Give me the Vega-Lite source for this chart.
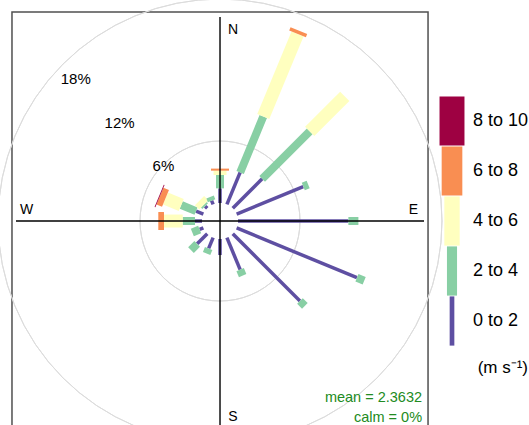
{
  "$schema": "https://vega.github.io/schema/vega-lite/v6.json",
  "width": 529,
  "height": 425,
  "padding": 0,
  "autosize": "none",
  "background": "white",
  "config": {"view": {"stroke": null}, "font": "Liberation Sans"},
  "datasets": {
    "rose": [
      {"dir": 0, "speed": "0 to 2", "freq": 1.42},
      {"dir": 0, "speed": "2 to 4", "freq": 1.29},
      {"dir": 0, "speed": "4 to 6", "freq": 0.42},
      {"dir": 0, "speed": "6 to 8", "freq": 0.2},
      {"dir": 22.5, "speed": "0 to 2", "freq": 3.35},
      {"dir": 22.5, "speed": "2 to 4", "freq": 5.85},
      {"dir": 22.5, "speed": "4 to 6", "freq": 8.66},
      {"dir": 22.5, "speed": "6 to 8", "freq": 0.34},
      {"dir": 45, "speed": "0 to 2", "freq": 4.03},
      {"dir": 45, "speed": "2 to 4", "freq": 6.5},
      {"dir": 45, "speed": "4 to 6", "freq": 4.8},
      {"dir": 67.5, "speed": "0 to 2", "freq": 6.98},
      {"dir": 67.5, "speed": "2 to 4", "freq": 0.51},
      {"dir": 90, "speed": "0 to 2", "freq": 10.68},
      {"dir": 90, "speed": "2 to 4", "freq": 0.97},
      {"dir": 112.5, "speed": "0 to 2", "freq": 12.6},
      {"dir": 112.5, "speed": "2 to 4", "freq": 0.76},
      {"dir": 135, "speed": "0 to 2", "freq": 9.2},
      {"dir": 135, "speed": "2 to 4", "freq": 0.67},
      {"dir": 157.5, "speed": "0 to 2", "freq": 3.35},
      {"dir": 157.5, "speed": "2 to 4", "freq": 0.63},
      {"dir": 180, "speed": "0 to 2", "freq": 1.55},
      {"dir": 202.5, "speed": "0 to 2", "freq": 1.13},
      {"dir": 202.5, "speed": "2 to 4", "freq": 0.52},
      {"dir": 225, "speed": "0 to 2", "freq": 1.38},
      {"dir": 225, "speed": "2 to 4", "freq": 0.85},
      {"dir": 247.5, "speed": "0 to 2", "freq": 0.39},
      {"dir": 247.5, "speed": "2 to 4", "freq": 0.77},
      {"dir": 270, "speed": "0 to 2", "freq": 0.68},
      {"dir": 270, "speed": "2 to 4", "freq": 1.19},
      {"dir": 270, "speed": "4 to 6", "freq": 1.81},
      {"dir": 270, "speed": "6 to 8", "freq": 0.55},
      {"dir": 292.5, "speed": "0 to 2", "freq": 0.77},
      {"dir": 292.5, "speed": "2 to 4", "freq": 1.55},
      {"dir": 292.5, "speed": "4 to 6", "freq": 1.65},
      {"dir": 292.5, "speed": "6 to 8", "freq": 0.58},
      {"dir": 292.5, "speed": "8 to 10", "freq": 0.08},
      {"dir": 315, "speed": "0 to 2", "freq": 0.29},
      {"dir": 315, "speed": "2 to 4", "freq": 0.19},
      {"dir": 315, "speed": "4 to 6", "freq": 0.58},
      {"dir": 337.5, "speed": "0 to 2", "freq": 0.39},
      {"dir": 337.5, "speed": "2 to 4", "freq": 0.38}
    ],
    "rings": [
      {"pct": 6, "label": "6%"},
      {"pct": 12, "label": "12%"},
      {"pct": 18, "label": "18%"}
    ],
    "compass": [
      {"label": "N", "dir": 0},
      {"label": "E", "dir": 90},
      {"label": "S", "dir": 180},
      {"label": "W", "dir": 270}
    ],
    "stats": [
      {"label": "mean = 2.3632", "line": 0},
      {"label": "calm = 0%", "line": 1}
    ]
  },
  "layer": [
    {
      "description": "panel border",
      "data": {"values": [{}]},
      "mark": {"type": "rect", "fillOpacity": 0, "stroke": "#505050", "strokeWidth": 1.5},
      "encoding": {
        "x": {"datum": -20.13, "type": "quantitative", "scale": {"domain": [-21.29, 29.9], "nice": false, "zero": false}, "axis": null},
        "x2": {"datum": 20.13},
        "y": {"datum": 20.23, "type": "quantitative", "scale": {"domain": [-19.74, 21.39], "nice": false, "zero": false}, "axis": null},
        "y2": {"datum": -23}
      }
    },
    {
      "description": "percentage rings, offset by the calm hole in the middle",
      "data": {"name": "rings"},
      "transform": [{"calculate": "datum.pct + 1.742", "as": "rr"}],
      "mark": {"type": "arc", "theta": 0, "theta2": 6.2832, "fillOpacity": 0, "stroke": "#dcdcdc", "strokeWidth": 1},
      "encoding": {
        "x": {"datum": 0, "type": "quantitative", "scale": {"domain": [-21.29, 29.9], "nice": false, "zero": false}, "axis": null},
        "y": {"datum": 0, "type": "quantitative", "scale": {"domain": [-19.74, 21.39], "nice": false, "zero": false}, "axis": null},
        "radius": {"field": "rr", "type": "quantitative", "scale": {"type": "linear", "domain": [0, 19.742], "range": [0, 204], "zero": true}}
      }
    },
    {
      "description": "paddles: one segment per direction and speed interval, wider for faster winds",
      "data": {"name": "rose"},
      "transform": [
        {"stack": "freq", "groupby": ["dir"], "sort": [{"field": "speed", "order": "ascending"}], "as": ["p0", "p1"]},
        {"calculate": "(datum.p0 + 1.742) * sin(datum.dir * PI / 180)", "as": "xa"},
        {"calculate": "(datum.p0 + 1.742) * cos(datum.dir * PI / 180)", "as": "ya"},
        {"calculate": "(datum.p1 + 1.742) * sin(datum.dir * PI / 180)", "as": "xb"},
        {"calculate": "(datum.p1 + 1.742) * cos(datum.dir * PI / 180)", "as": "yb"}
      ],
      "mark": {"type": "rule", "strokeCap": "butt"},
      "encoding": {
        "x": {"field": "xa", "type": "quantitative", "scale": {"domain": [-21.29, 29.9], "nice": false, "zero": false}, "axis": null},
        "x2": {"field": "xb"},
        "y": {"field": "ya", "type": "quantitative", "scale": {"domain": [-19.74, 21.39], "nice": false, "zero": false}, "axis": null},
        "y2": {"field": "yb"},
        "color": {
          "field": "speed",
          "type": "nominal",
          "scale": {
            "domain": ["8 to 10", "6 to 8", "4 to 6", "2 to 4", "0 to 2"],
            "range": ["#9E0142", "#F98E52", "#FFFFBF", "#88CFA4", "#5E4FA2"]
          },
          "legend": {
            "orient": "none",
            "legendX": 439,
            "legendY": 108,
            "padding": 0,
            "rowPadding": 0,
            "symbolSize": 635,
            "labelOffset": 8,
            "labelFont": "Liberation Sans",
            "labelFontSize": 18,
            "labelColor": "#000000",
            "title": "(m s⁻¹)",
            "titleOrient": "bottom",
            "titleAnchor": "end",
            "titleFont": "Liberation Sans",
            "titleFontSize": 17,
            "titleFontWeight": "normal",
            "titleColor": "#000000",
            "titlePadding": 14,
            "encode": {
              "symbols": {
                "update": {
                  "shape": {"signal": "datum.value === '8 to 10' ? 'M-0.99,-1.953H0.99V1.953H-0.99Z' : datum.value === '6 to 8' ? 'M-0.82,-1.953H0.82V1.953H-0.82Z' : datum.value === '4 to 6' ? 'M-0.61,-1.953H0.61V1.953H-0.61Z' : datum.value === '2 to 4' ? 'M-0.4,-1.953H0.4V1.953H-0.4Z' : 'M-0.186,-1.953H0.186V1.953H-0.186Z'"},
                  "fill": {"scale": "color", "field": "value"},
                  "fillOpacity": {"value": 1},
                  "opacity": {"value": 1},
                  "strokeWidth": {"value": 0}
                }
              }
            }
          }
        },
        "strokeWidth": {
          "condition": [
            {"test": "datum.speed === '0 to 2'", "value": 3.5},
            {"test": "datum.speed === '2 to 4'", "value": 8},
            {"test": "datum.speed === '4 to 6'", "value": 13},
            {"test": "datum.speed === '6 to 8'", "value": 18}
          ],
          "value": 24
        }
      }
    },
    {
      "description": "compass cross",
      "data": {"values": [{"a": -19.742, "b": 19.742}]},
      "mark": {"type": "rule", "color": "#000000", "strokeWidth": 1.4},
      "encoding": {
        "x": {"field": "a", "type": "quantitative", "scale": {"domain": [-21.29, 29.9], "nice": false, "zero": false}, "axis": null},
        "x2": {"field": "b"},
        "y": {"datum": 0, "type": "quantitative", "scale": {"domain": [-19.74, 21.39], "nice": false, "zero": false}, "axis": null}
      }
    },
    {
      "data": {"values": [{"a": -19.742, "b": 19.742}]},
      "mark": {"type": "rule", "color": "#000000", "strokeWidth": 1.4},
      "encoding": {
        "x": {"datum": 0, "type": "quantitative", "scale": {"domain": [-21.29, 29.9], "nice": false, "zero": false}, "axis": null},
        "y": {"field": "a", "type": "quantitative", "scale": {"domain": [-19.74, 21.39], "nice": false, "zero": false}, "axis": null},
        "y2": {"field": "b"}
      }
    },
    {
      "description": "ring labels along the north-west diagonal",
      "data": {"name": "rings"},
      "transform": [
        {"calculate": "-(datum.pct + 1.742) * sin(PI / 4)", "as": "lx"},
        {"calculate": "(datum.pct + 1.742) * cos(PI / 4)", "as": "ly"}
      ],
      "mark": {"type": "text", "fontSize": 15, "color": "#000000", "align": "center", "baseline": "middle", "dy": 2},
      "encoding": {
        "x": {"field": "lx", "type": "quantitative", "scale": {"domain": [-21.29, 29.9], "nice": false, "zero": false}, "axis": null},
        "y": {"field": "ly", "type": "quantitative", "scale": {"domain": [-19.74, 21.39], "nice": false, "zero": false}, "axis": null},
        "text": {"field": "label"}
      }
    },
    {
      "description": "N and S labels sit just right of the vertical line",
      "data": {"name": "compass"},
      "transform": [
        {"filter": "datum.dir === 0 || datum.dir === 180"},
        {"calculate": "18.72 * sin(datum.dir * PI / 180)", "as": "lx"},
        {"calculate": "18.72 * cos(datum.dir * PI / 180)", "as": "ly"}
      ],
      "mark": {"type": "text", "fontSize": 14, "color": "#000000", "align": "center", "baseline": "middle", "dx": 13, "dy": 2.5},
      "encoding": {
        "x": {"field": "lx", "type": "quantitative", "scale": {"domain": [-21.29, 29.9], "nice": false, "zero": false}, "axis": null},
        "y": {"field": "ly", "type": "quantitative", "scale": {"domain": [-19.74, 21.39], "nice": false, "zero": false}, "axis": null},
        "text": {"field": "label"}
      }
    },
    {
      "description": "E and W labels sit just above the horizontal line",
      "data": {"name": "compass"},
      "transform": [
        {"filter": "datum.dir === 90 || datum.dir === 270"},
        {"calculate": "18.72 * sin(datum.dir * PI / 180)", "as": "lx"},
        {"calculate": "18.72 * cos(datum.dir * PI / 180)", "as": "ly"}
      ],
      "mark": {"type": "text", "fontSize": 14, "color": "#000000", "align": "center", "baseline": "middle", "dy": -11},
      "encoding": {
        "x": {"field": "lx", "type": "quantitative", "scale": {"domain": [-21.29, 29.9], "nice": false, "zero": false}, "axis": null},
        "y": {"field": "ly", "type": "quantitative", "scale": {"domain": [-19.74, 21.39], "nice": false, "zero": false}, "axis": null},
        "text": {"field": "label"}
      }
    },
    {
      "description": "summary statistics in the lower right corner",
      "data": {"name": "stats"},
      "transform": [
        {"calculate": "19.55", "as": "sx"},
        {"calculate": "-17.13 - 1.94 * datum.line", "as": "sy"}
      ],
      "mark": {"type": "text", "fontSize": 14.5, "color": "#228B22", "align": "right", "baseline": "middle"},
      "encoding": {
        "x": {"field": "sx", "type": "quantitative", "scale": {"domain": [-21.29, 29.9], "nice": false, "zero": false}, "axis": null},
        "y": {"field": "sy", "type": "quantitative", "scale": {"domain": [-19.74, 21.39], "nice": false, "zero": false}, "axis": null},
        "text": {"field": "label"}
      }
    }
  ]
}
